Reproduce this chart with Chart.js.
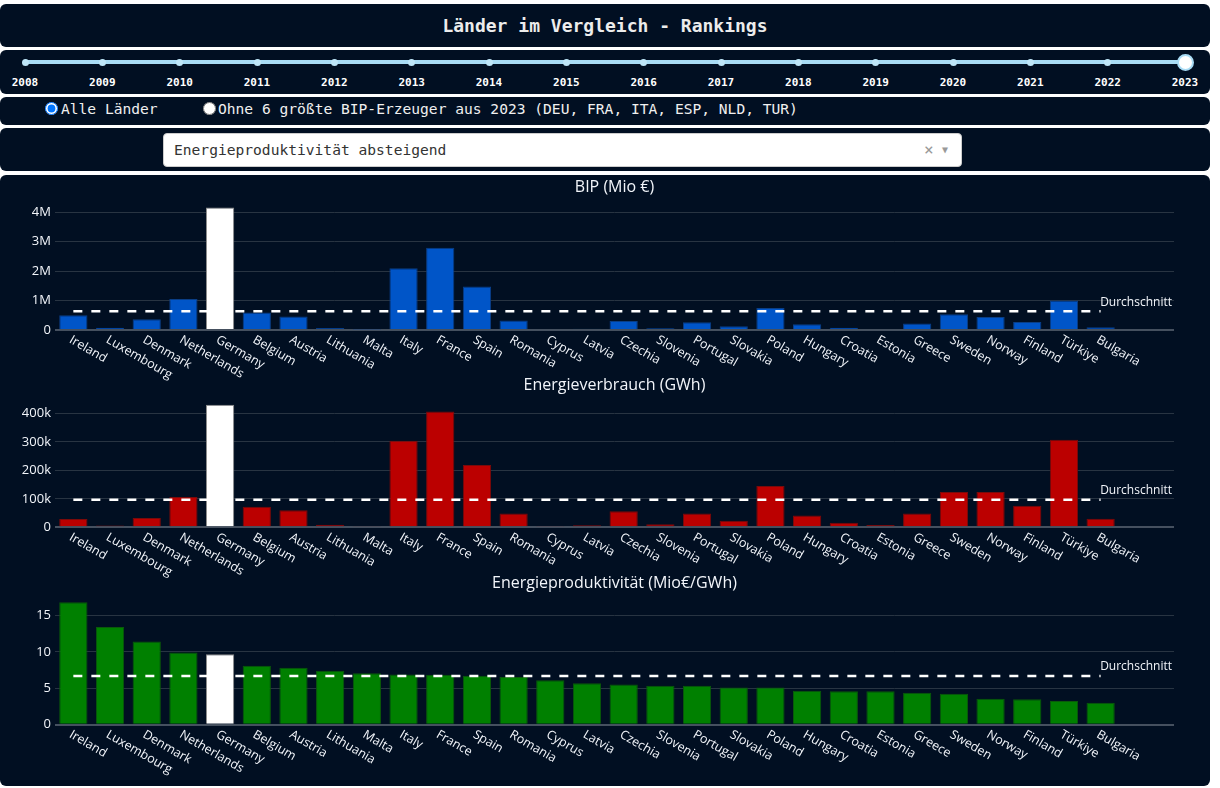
<!DOCTYPE html>
<html>
<head>
<meta charset="utf-8">
<script src="https://cdn.jsdelivr.net/npm/chart.js@4.4.0/dist/chart.umd.min.js"></script>
<style>
body { margin: 0; width: 1220px; height: 788px; background: #fff; overflow: hidden; position: relative; font-family: "DejaVu Sans Mono", monospace; }
.panel { position: absolute; left: 0; width: 1210px; background: #010f22; border-radius: 6px; }
#head { top: 4px; height: 43px; color: #ececec; font-weight: bold; font-size: 18px; text-align: center; line-height: 43px; }
#slider { top: 50px; height: 44px; }
#radios { top: 97px; height: 28px; }
#drop { top: 128px; height: 43px; }
#plots { top: 175px; height: 611px; }
.track { position: absolute; left: 25px; width: 1160px; top: 10px; height: 4px; background: #a9dcf5; border-radius: 2px; }
.dot { position: absolute; width: 7px; height: 7px; border-radius: 50%; background: #bfe6f8; top: 8.5px; margin-left: -3.5px; }
.handle { position: absolute; width: 13px; height: 13px; border-radius: 50%; background: #fff; border: 2px solid #a9dcf5; top: 3.5px; margin-left: -8.5px; }
.year { position: absolute; top: 26px; width: 40px; margin-left: -20px; text-align: center; color: #fff; font-weight: bold; font-size: 11px; }
.rlab { position: absolute; top: 1px; color: #f0f0f0; font-size: 14.6px; line-height: 22px; }
.rlab input { position: absolute; margin: 0; width: 13px; height: 13px; top: 4px; }
.box { position: absolute; left: 163px; top: 5px; width: 797px; height: 32px; background: #fff; border: 1px solid #ccc; border-radius: 4px; }
.box span { position: absolute; top: 0; line-height: 32px; }
canvas { position: absolute; left: 0; }
</style>
</head>
<body>
<div class="panel" id="head">Länder im Vergleich - Rankings</div>
<div class="panel" id="slider"><div class="track"></div></div>
<div class="panel" id="radios">
  <label class="rlab" style="left:45px"><input type="radio" name="sel" checked><span style="margin-left:16px">Alle Länder</span></label>
  <label class="rlab" style="left:203px"><input type="radio" name="sel"><span style="margin-left:15px">Ohne 6 größte BIP-Erzeuger aus 2023 (DEU, FRA, ITA, ESP, NLD, TUR)</span></label>
</div>
<div class="panel" id="drop">
  <div class="box">
    <span style="left:10px;color:#333;font-size:14.6px">Energieproduktivität absteigend</span>
    <span style="left:760px;color:#999;font-size:16px">×</span>
    <span style="left:778px;color:#999;font-size:10px">▼</span>
  </div>
</div>
<div class="panel" id="plots"></div>
<canvas id="c1" width="1210" height="212" style="top:175px"></canvas>
<canvas id="c2" width="1210" height="212" style="top:373px"></canvas>
<canvas id="c3" width="1210" height="215" style="top:571px"></canvas>
<script>
var years = [2008, 2009, 2010, 2011, 2012, 2013, 2014, 2015, 2016, 2017, 2018, 2019, 2020, 2021, 2022, 2023];
var selectedYear = 2023;

var countries = ["Ireland", "Luxembourg", "Denmark", "Netherlands", "Germany", "Belgium", "Austria", "Lithuania", "Malta", "Italy",
  "France", "Spain", "Romania", "Cyprus", "Latvia", "Czechia", "Slovenia", "Portugal", "Slovakia", "Poland",
  "Hungary", "Croatia", "Estonia", "Greece", "Sweden", "Norway", "Finland", "Türkiye", "Bulgaria"];
var highlight = "Germany";

// BIP in Mio €
var bip = [500000, 80000, 365000, 1050000, 4160000, 590000, 455000, 72000, 20000, 2100000,
  2790000, 1480000, 320000, 30000, 40000, 305000, 60000, 265000, 125000, 745000,
  195000, 78000, 38000, 220000, 535000, 445000, 275000, 1000000, 93000];
// Energieverbrauch in GWh
var energie = [29000, 6000, 33000, 106000, 430000, 72000, 60000, 9000, 3000, 304000,
  406000, 219000, 48000, 5000, 7000, 56000, 11000, 48000, 23000, 145000,
  41000, 16000, 8000, 48000, 124000, 124000, 76000, 307000, 30000];
// Energieproduktivität in Mio€/GWh
var produktivitaet = [16.8, 13.4, 11.4, 9.9, 9.65, 8.1, 7.8, 7.4, 7.05, 6.9,
  6.85, 6.7, 6.55, 6.1, 5.7, 5.5, 5.35, 5.35, 5.1, 5.1,
  4.65, 4.6, 4.6, 4.4, 4.25, 3.55, 3.5, 3.25, 3.0];

var avgBip = 640000;
var avgEnergie = 97000;
var avgProd = 6.68;

var bipTicks = [0, 1000000, 2000000, 3000000, 4000000];
var energieTicks = [0, 100000, 200000, 300000, 400000];
var prodTicks = [0, 5, 10, 15];

// slider
var sl = document.getElementById("slider");
years.forEach(function(y, i) {
  var x = 25 + i * (1160 / (years.length - 1));
  var d = document.createElement("div");
  d.className = y === selectedYear ? "handle" : "dot";
  d.style.left = x + "px";
  sl.appendChild(d);
  var t = document.createElement("div");
  t.className = "year";
  t.style.left = x + "px";
  t.textContent = y;
  sl.appendChild(t);
});

var txt = "#f2f5fa";

var plotText = {
  id: "plotText",
  afterDraw: function(chart) {
    var ctx = chart.ctx, a = chart.chartArea, xs = chart.scales.x, ys = chart.scales.y;
    var o = chart.options.plugins.plotText;
    ctx.save();
    ctx.fillStyle = txt;
    ctx.font = "16px 'Open Sans'";
    ctx.textAlign = "center";
    ctx.textBaseline = "middle";
    ctx.fillText(o.title, (a.left + a.right) / 2, 12);
    ctx.font = "12px 'Open Sans'";
    ctx.textAlign = "right";
    ctx.textBaseline = "bottom";
    ctx.fillText("Durchschnitt", a.right - 2, ys.getPixelForValue(o.avg) - 3);
    ctx.font = "12.5px 'Open Sans'";
    ctx.textAlign = "left";
    ctx.textBaseline = "middle";
    countries.forEach(function(c, i) {
      ctx.save();
      ctx.translate(xs.getPixelForValue(i) - 3, a.bottom + 9);
      ctx.rotate(Math.PI / 6);
      ctx.fillText(c, 0, 0);
      ctx.restore();
    });
    ctx.restore();
  }
};

function makeChart(id, values, avg, color, edge, ticks, fmt, title, top, axisH) {
  var colors = countries.map(function(c) { return c === highlight ? "#ffffff" : color; });
  var borders = countries.map(function(c) { return c === highlight ? "#8a8a8a" : edge; });
  var maxV = Math.max.apply(null, values) / 0.95;
  new Chart(document.getElementById(id), {
    type: "bar",
    data: {
      datasets: [{
        type: "line",
        order: 0,
        data: [{ x: 0, y: avg }, { x: countries.length - 1, y: avg }],
        borderColor: "#ffffff",
        borderWidth: 2.5,
        borderDash: [9, 9],
        pointRadius: 0
      }, {
        type: "bar",
        order: 1,
        data: values.map(function(v, i) { return { x: i, y: v }; }),
        backgroundColor: colors,
        borderColor: borders,
        borderWidth: 1,
        barPercentage: 0.77,
        categoryPercentage: 1
      }]
    },
    options: {
      responsive: false,
      animation: false,
      layout: { padding: { top: top, right: 36, left: 0, bottom: 0 } },
      plugins: { legend: { display: false }, tooltip: { enabled: false }, plotText: { title: title, avg: avg } },
      scales: {
        x: {
          type: "linear", min: -0.5, max: 30, offset: false,
          grid: { display: false }, border: { display: false },
          ticks: { display: false },
          afterFit: function(s) { s.height = axisH; }
        },
        y: {
          min: 0, max: maxV,
          border: { display: false },
          grid: {
            drawTicks: false,
            color: function(c) { return c.tick && c.tick.value === 0 ? "#45505f" : "#283442"; },
            lineWidth: function(c) { return c.tick && c.tick.value === 0 ? 2 : 1; }
          },
          afterBuildTicks: function(s) { s.ticks = ticks.map(function(v) { return { value: v }; }); },
          afterFit: function(s) { s.width = 55; },
          ticks: { padding: 4, color: txt, font: { family: "Open Sans", size: 13 }, callback: fmt }
        }
      }
    },
    plugins: [plotText]
  });
}

makeChart("c1", bip, avgBip, "#0055c8", "#0a3e86", bipTicks,
  function(v) { return v === 0 ? "0" : (v / 1000000) + "M"; }, "BIP (Mio €)", 26, 57);
makeChart("c2", energie, avgEnergie, "#bb0000", "#7a0a0a", energieTicks,
  function(v) { return v === 0 ? "0" : (v / 1000) + "k"; }, "Energieverbrauch (GWh)", 25.3, 57.7);
makeChart("c3", produktivitaet, avgProd, "#008000", "#0a5a0a", prodTicks,
  function(v) { return String(v); }, "Energieproduktivität (Mio€/GWh)", 24.8, 61.3);
</script>
</body>
</html>
